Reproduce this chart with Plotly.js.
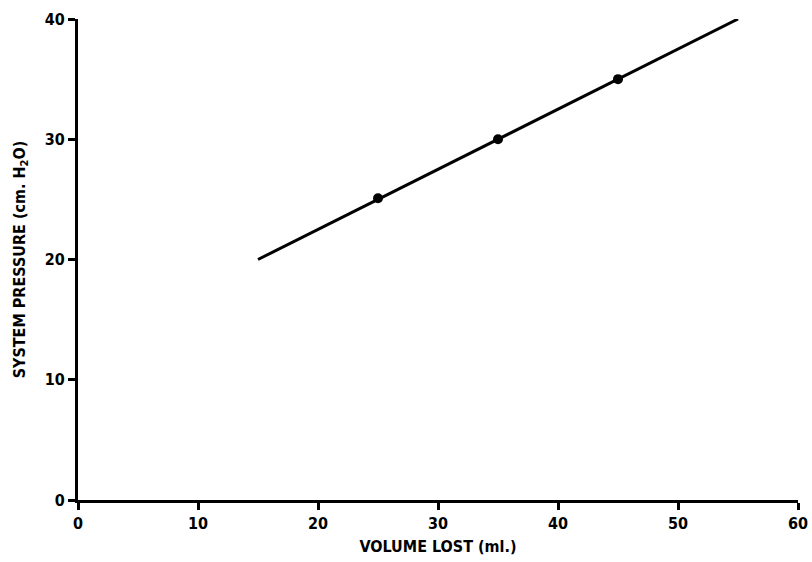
<!DOCTYPE html>
<html>
<head>
<meta charset="utf-8">
<script src="https://cdn.plot.ly/plotly-3.0.1.min.js"></script>
<style>html,body{margin:0;padding:0;background:#fff;}#chart{width:812px;height:562px;}</style>
</head>
<body>
<div id="chart"></div>
<script>
// Measured points
const pointVolume = [25.0, 35.0, 45.0];
const pointPressure = [25.1, 30.0, 35.0];
// Fitted line endpoints
const lineVolume = [15, 55];
const linePressure = [20, 40];
const xTicks = [0, 10, 20, 30, 40, 50, 60];
const yTicks = [0, 10, 20, 30, 40];

const fontFam = "'Liberation Sans Narrow', 'DejaVu Sans Condensed', 'Arial Narrow', sans-serif";

const traces = [
  {x: lineVolume, y: linePressure, mode: 'lines', line: {color: '#000', width: 3}, hoverinfo: 'skip'},
  {x: pointVolume, y: pointPressure, mode: 'markers', marker: {color: '#000', size: 10}}
];

const axisCommon = {
  showgrid: false, zeroline: false, showline: true, linecolor: '#000', linewidth: 3,
  ticks: 'outside', ticklen: 7, tickwidth: 3, tickcolor: '#000',
  tickfont: {family: fontFam, size: 16, color: '#000', weight: 'bold'},
  fixedrange: true
};

const layout = {
  width: 812, height: 562,
  margin: {l: 78, r: 14, t: 19, b: 62},
  paper_bgcolor: '#fff', plot_bgcolor: '#fff',
  showlegend: false,
  xaxis: Object.assign({}, axisCommon, {
    range: [0, 60], tickvals: xTicks, ticktext: xTicks.map(String),
    title: {text: 'VOLUME LOST (ml.)', font: {family: fontFam, size: 16, color: '#000', weight: 'bold'}, standoff: 9}
  }),
  yaxis: Object.assign({}, axisCommon, {
    range: [0, 40], tickvals: yTicks, ticktext: yTicks.map(String),
    title: {text: 'SYSTEM PRESSURE (cm. H<sub>2</sub>O)', font: {family: fontFam, size: 16, color: '#000', weight: 'bold'}, standoff: 16}
  })
};

Plotly.newPlot('chart', traces, layout, {displayModeBar: false, staticPlot: true});
</script>
</body>
</html>
